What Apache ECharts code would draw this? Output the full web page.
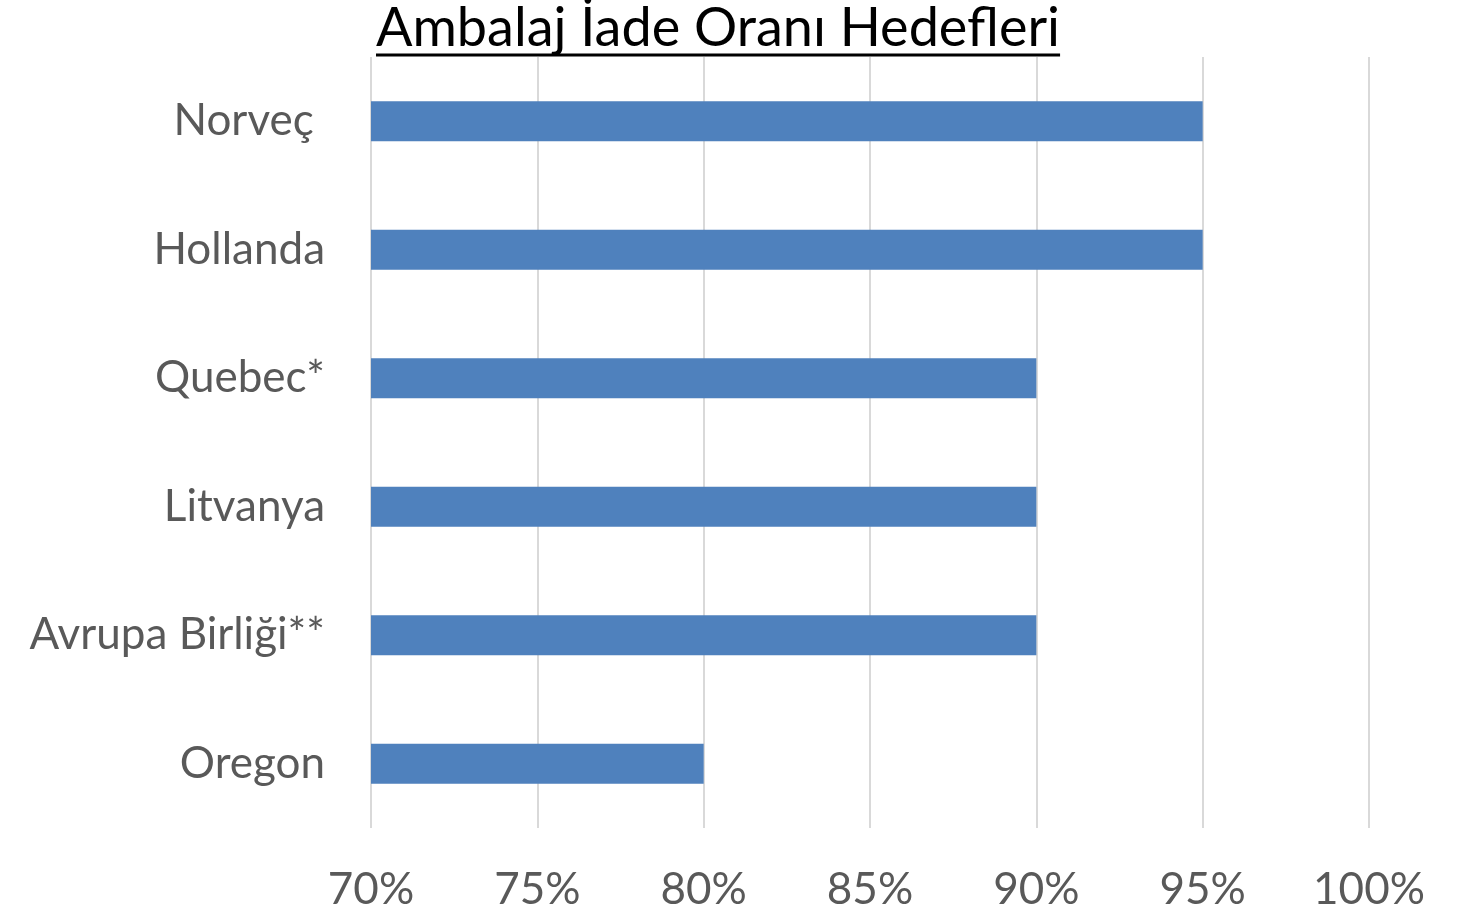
<!DOCTYPE html>
<html>
<head>
<meta charset="utf-8">
<script src="https://cdn.jsdelivr.net/npm/echarts@6/dist/echarts.min.js"></script>
<style>
html,body{margin:0;padding:0;background:#fff;}
#main{width:1471px;height:914px;}
</style>
</head>
<body>
<div id="main"></div>
<script>
var titleText = 'Ambalaj İade Oranı Hedefleri';
var categories = ['Norveç ', 'Hollanda', 'Quebec*', 'Litvanya', 'Avrupa Birliği**', 'Oregon'];
var values = [95, 95, 90, 90, 90, 80];
var xTicks = [70, 75, 80, 85, 90, 95, 100];

window.onload = function () {
	var font = 'Lato';
	var titleSize = 54;
	var titleLeft = 376;

	// underline width from the real text width
	var ctx = document.createElement('canvas').getContext('2d');
	ctx.font = titleSize + 'px ' + font;
	var tw = ctx.measureText(titleText).width;

	var myChart = echarts.init(document.getElementById('main'));
	var option = {
		animation: false,
		title: {
			text: titleText,
			left: titleLeft,
			top: 2,
			padding: 0,
			textStyle: {color: '#000', fontFamily: font, fontSize: titleSize, fontWeight: 'normal'}
		},
		graphic: [{
			type: 'line',
			shape: {x1: titleLeft, y1: 55, x2: titleLeft + tw, y2: 55},
			style: {stroke: '#000', lineWidth: 3}
		}],
		grid: {left: 371, right: 102, top: 57, bottom: 86, containLabel: false},
		xAxis: {
			type: 'value',
			min: xTicks[0],
			max: xTicks[xTicks.length - 1],
			interval: 5,
			axisLine: {show: false},
			axisTick: {show: false},
			splitLine: {lineStyle: {color: '#d9d9d9', width: 2}},
			axisLabel: {
				formatter: '{value}%',
				color: '#595959',
				fontFamily: font,
				fontSize: 44,
				margin: 40
			}
		},
		yAxis: {
			type: 'category',
			inverse: true,
			data: categories,
			axisLine: {show: false},
			axisTick: {show: false},
			axisLabel: {color: '#595959', fontFamily: font, fontSize: 44, margin: 46}
		},
		series: [{
			type: 'bar',
			data: values,
			barWidth: 40,
			itemStyle: {color: '#4F81BD'}
		}]
	};
	myChart.setOption(option);
};
</script>
</body>
</html>
